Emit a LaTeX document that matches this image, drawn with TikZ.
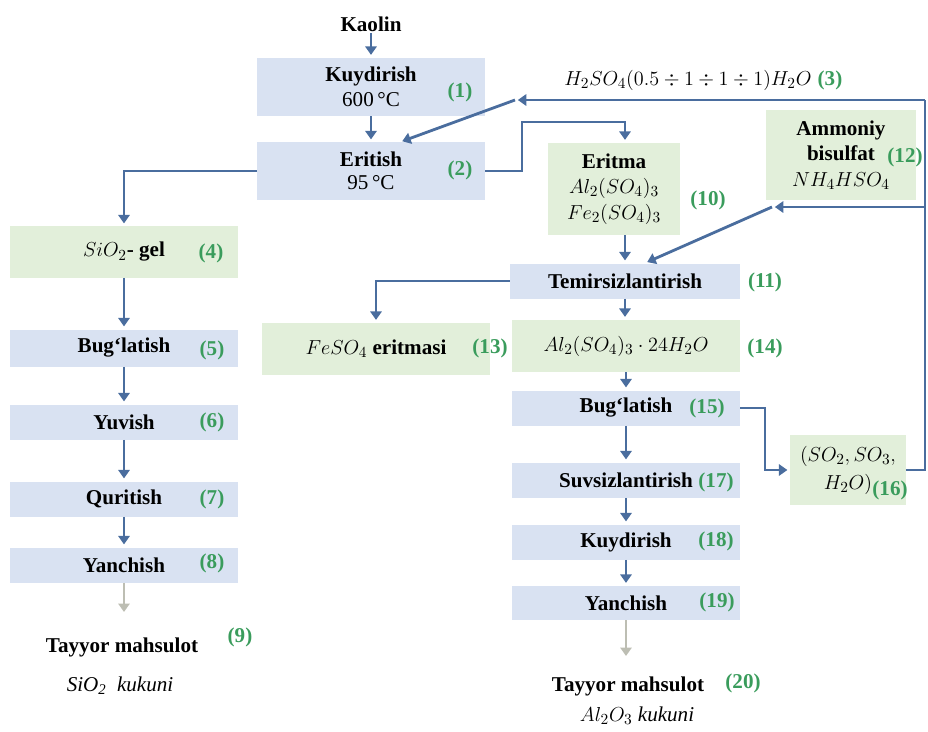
\documentclass[tikz,border=0pt]{standalone}
\usepackage{fontspec}
\setmainfont{LiberationSerif}[Extension=.ttf, UprightFont=*-Regular, BoldFont=*-Bold, ItalicFont=*-Italic, BoldItalicFont=*-BoldItalic]
\usetikzlibrary{arrows.meta,calc}
\definecolor{boxblue}{HTML}{D9E2F2}
\definecolor{boxgreen}{HTML}{E2EFDA}
\definecolor{flowblue}{HTML}{4A6D9E}
\definecolor{numgreen}{HTML}{3A9C5C}
\definecolor{endgray}{HTML}{BDBEB3}
\newcommand{\figfont}{\fontsize{15}{18}\selectfont}
\begin{document}
\begin{tikzpicture}[x=0.025cm, y=-0.025cm,
    stage/.style={fill=boxblue, minimum width=5.7cm, minimum height=0.875cm, inner sep=0pt, align=center, font=\figfont\bfseries},
    prod/.style={fill=boxgreen, minimum width=5.7cm, minimum height=1.3cm, inner sep=0pt, align=center, font=\figfont\bfseries},
    freetext/.style={inner sep=1pt, align=center, font=\figfont\bfseries},
    num/.style={inner sep=0pt, text=numgreen, font=\figfont\bfseries},
    flow/.style={draw=flowblue, line width=2pt, -{Triangle[width=8pt,length=6pt]}, shorten >=2pt},
    pipe/.style={draw=flowblue, line width=2pt},
    finish/.style={draw=endgray, line width=2pt, -{Triangle[width=8pt,length=6pt]}}]
                      \useasboundingbox (0,0) rectangle (928,731);

                      \node[freetext] (kaolin) at (371,24) {Kaolin};
                      \node[stage, minimum height=1.45cm] (k1) at (371,87) {Kuydirish\\{\mdseries 600\,°C}};
                      \node[num] (n1) at (460,92) {(1)};
                      \node[stage, minimum height=1.425cm] (e2) at (371,171) {Eritish\\[-2pt]{\mdseries 95\,°C}};
                      \node[num] (n2) at (460,170) {(2)};
                      \node[freetext] (acid) at (688,80) {\mdseries $H_2SO_4(0.5\div1\div1\div1)H_2O$};
                      \node[num] (n3) at (830,80) {(3)};

                      \node[prod, minimum height=1.275cm] (g4) at (124,252) {{\mdseries $SiO_2$}- gel};
                      \node[num] (n4) at (211,253) {(4)};
                      \node[stage, minimum height=0.925cm] (b5) at (124,348) {Bug‘latish};
                      \node[num] (n5) at (212,350) {(5)};
                      \node[stage] (b6) at (124,422) {Yuvish};
                      \node[num] (n6) at (212,422) {(6)};
                      \node[stage] (b7) at (124,499) {Quritish};
                      \node[num] (n7) at (212,499) {(7)};
                      \node[stage] (b8) at (124,565) {Yanchish};
                      \node[num] (n8) at (212,563) {(8)};
                      \node[freetext] (t9) at (122,647) {Tayyor mahsulot};
                      \node[num] (n9) at (240,637) {(9)};
                      \node[freetext] (k9) at (120,686) {\mdseries\itshape SiO\textsubscript{2}\ \ kukuni};

                      \node[prod, minimum width=3.3cm, minimum height=2.3cm] (g10) at (614,189) {Eritma\\{\mdseries $Al_2(SO_4)_3$}\\{\mdseries $Fe_2(SO_4)_3$}};
                      \node[num] (n10) at (708,200) {(10)};
                      \node[prod, minimum width=3.75cm, minimum height=2.25cm] (g12) at (841,155) {Ammoniy\\bisulfat\\{\mdseries $NH_4HSO_4$}};
                      \node[num] (n12) at (905,157) {(12)};
                      \node[stage, minimum width=5.75cm] (b11) at (625,281) {Temirsizlantirish};
                      \node[num] (n11) at (765,282) {(11)};
                      \node[prod] (g13) at (376,349) {{\mdseries $FeSO_4$} eritmasi};
                      \node[num] (n13) at (490,348) {(13)};
                      \node[prod] (g14) at (626,346) {\mdseries $Al_2(SO_4)_3\cdot24H_2O$};
                      \node[num] (n14) at (765,348) {(14)};
                      \node[stage] (b15) at (626,408) {Bug‘latish};
                      \node[num] (n15) at (707,408) {(15)};
                      \node[prod, minimum width=2.875cm, minimum height=1.75cm] (g16) at (848,470) {\mdseries $(SO_2, SO_3,$\\[2pt]\mdseries $H_2O)$};
                      \node[num] (n16) at (890,490) {(16)};
                      \node[stage] (b17) at (626,480) {Suvsizlantirish};
                      \node[num] (n17) at (716,482) {(17)};
                      \node[stage] (b18) at (626,542) {Kuydirish};
                      \node[num] (n18) at (716,541) {(18)};
                      \node[stage, minimum height=0.85cm] (b19) at (626,603) {Yanchish};
                      \node[num] (n19) at (717,602) {(19)};
                      \node[freetext] (t20) at (628,686) {Tayyor mahsulot};
                      \node[num] (n20) at (743,683) {(20)};
                      \node[freetext] (k20) at (637,716) {\mdseries $Al_2O_3$ \textit{kukuni}};

                      \coordinate (acidin) at (925,100);
                      \coordinate (acidend) at (515,100);
                      \coordinate (saltin) at (925,207);
                      \coordinate (saltend) at (772,207);
                      \coordinate (solbend) at (522,122);
                      \coordinate (soltop) at (625,122);
                      \coordinate (gasbend) at (765,408);
                      \coordinate (fin9) at (124,612);
                      \coordinate (fin20) at (626,656);

                      \draw[flow] (kaolin) -- (k1);
                      \draw[flow] (k1) -- (e2);
                      \draw[flow] (e2.west) -| (g4.north);
                      \draw[flow] (g4) -- (b5);
                      \draw[flow] (b5) -- (b6);
                      \draw[flow] (b6) -- (b7);
                      \draw[flow] (b7) -- (b8);
                      \draw[finish] (b8) -- (fin9);

                      \draw[flow] (e2.east) -| (solbend) -- (soltop) -- (soltop |- g10.north);
                      \draw[pipe] (g16.east) -| (acidin);
                      \draw[flow] (acidin) -- (acidend);
                      \draw[flow] (acidend) -- ($(e2.north)!0.25!(e2.north east)$);
                      \draw[flow] (saltin) -- (saltend);
                      \draw[flow] (saltend) -- ($(b11.north)!0.17!(b11.north east)$);
                      \draw[flow] (b11.north |- g10.south) -- (b11.north);
                      \draw[flow] (b11.west) -| (g13.north);
                      \draw[flow] (b11.south) -- (b11.south |- g14.north);
                      \draw[flow] (g14) -- (b15);
                      \draw[flow] (b15.east) -- (gasbend) |- (g16.west);
                      \draw[flow] (b15) -- (b17);
                      \draw[flow] (b17) -- (b18);
                      \draw[flow] (b18) -- (b19);
                      \draw[finish] (b19) -- (fin20);
                  \end{tikzpicture}
\end{document}
